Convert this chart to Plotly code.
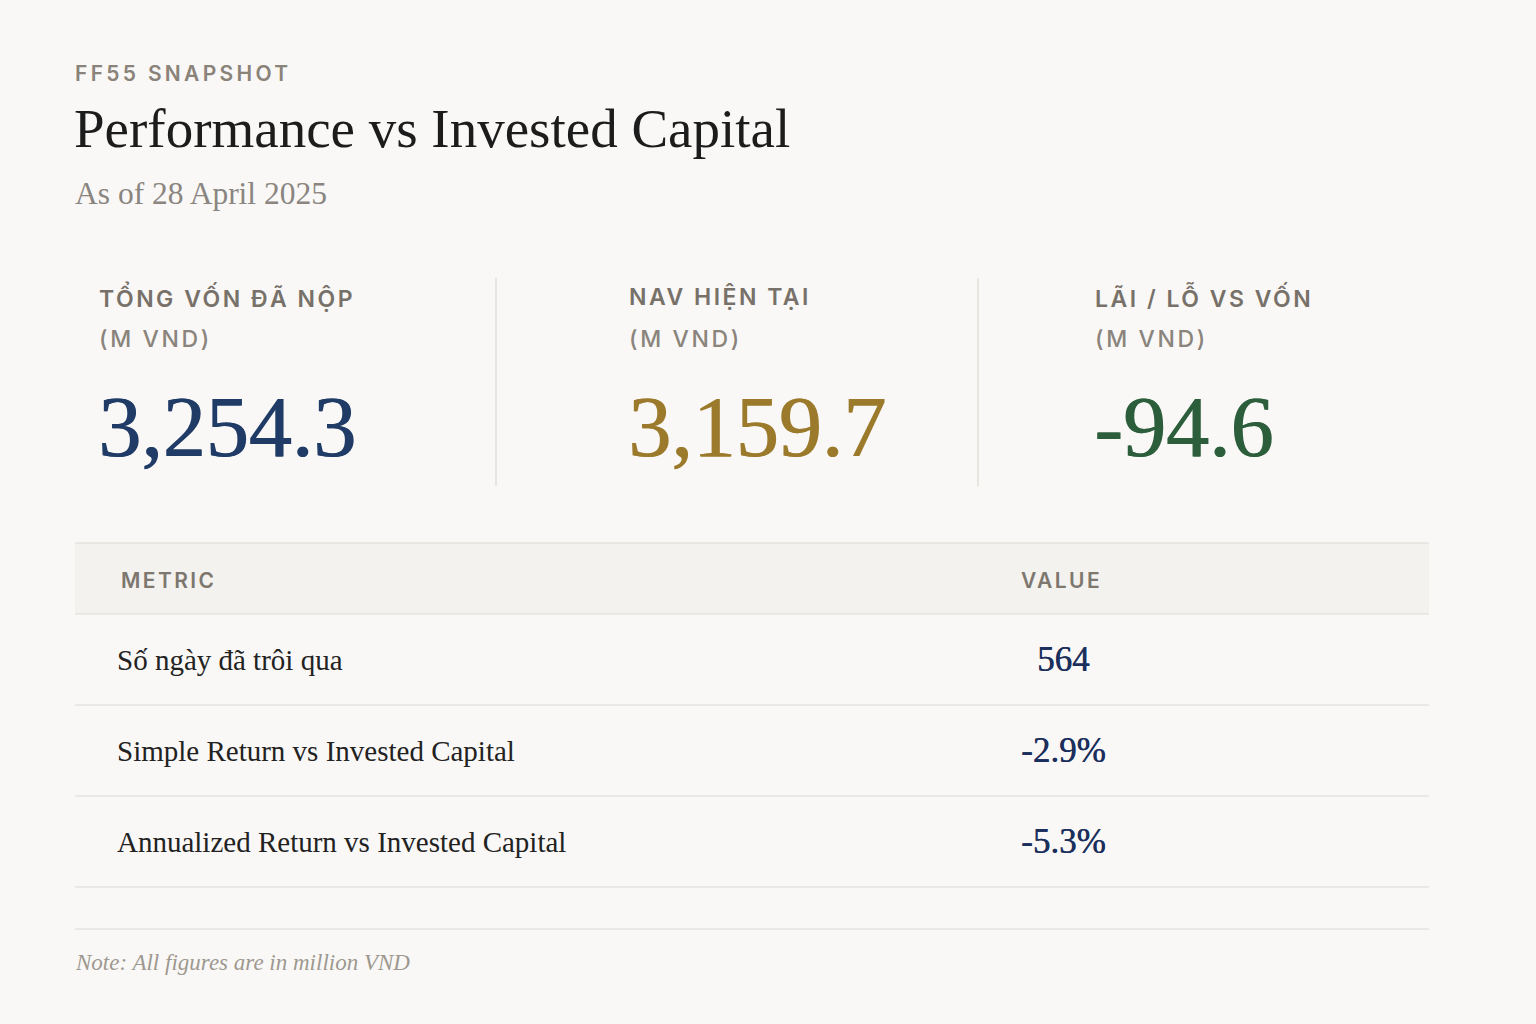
import plotly.graph_objects as go

# header text
kicker = "FF55 SNAPSHOT"
title = "Performance vs Invested Capital"
subtitle = "As of 28 April 2025"

# KPI cards
kpi_labels = ["TỔNG VỐN ĐÃ NỘP", "NAV HIỆN TẠI", "LÃI / LỖ VS VỐN"]
kpi_units = ["(M VND)", "(M VND)", "(M VND)"]
kpi_values = ["3,254.3", "3,159.7", "-94.6"]
kpi_colors = ["#1f3b66", "#9c7a2c", "#2d5e3c"]

# table
table_header = ["METRIC", "VALUE"]
metrics = ["Số ngày đã trôi qua", "Simple Return vs Invested Capital",
           "Annualized Return vs Invested Capital"]
metric_values = ["564", "-2.9%", "-5.3%"]

note = "Note: All figures are in million VND"

SERIF = "Liberation Serif, DejaVu Serif, serif"
SANS = "Inter, Roboto, Open Sans, sans-serif"
BG = "#f9f8f6"
RULE = "#dcd9d3"

fig = go.Figure()


def txt(x, y, s, size, color, family=SANS, anchor="left", weight="normal",
        spacing=None, shadow="none"):
    if spacing is not None:
        s = '<span style="letter-spacing:%spx">%s</span>' % (spacing, s)
    fig.add_annotation(x=x, y=y, xref="x", yref="y", text=s, showarrow=False,
                       xanchor=anchor, yanchor="middle",
                       font=dict(family=family, size=size, color=color,
                                 weight=weight, shadow=shadow))


def hline(y, x0=75, x1=1429):
    fig.add_shape(type="line", xref="x", yref="y", x0=x0, x1=x1, y0=y, y1=y,
                  line=dict(color=RULE, width=1.2))


# titles
txt(73, 73, kicker, 21, "#8a8379", weight=600, spacing=3.3)
txt(72, 128, title, 55, "#1c1c1c", SERIF)
txt(73, 193, subtitle, 31.5, "#8a8580", SERIF)

# KPI cards
card_x = [97, 627, 1093]
for i in range(len(kpi_labels)):
    txt(card_x[i], 297, kpi_labels[i], 23, "#77716a", weight=600, spacing=2.5)
    txt(card_x[i], 339, kpi_units[i], 23, "#8a847c", weight=500, spacing=2.6)
    # thin same-colour shadow thickens the serif numerals a bit
    txt(card_x[i] - 1, 427, kpi_values[i], 86, kpi_colors[i], SERIF,
        shadow="1px 0px 0px " + kpi_colors[i])

for xd in [496, 978]:
    fig.add_shape(type="line", xref="x", yref="y", x0=xd, x1=xd, y0=278, y1=486,
                  line=dict(color=RULE, width=1.2))

# table header
fig.add_shape(type="rect", xref="x", yref="y", x0=75, x1=1429, y0=543, y1=614,
              fillcolor="#f4f2ee", line=dict(width=0), layer="below")
hline(543)
hline(614)
txt(119, 580, table_header[0], 21, "#7d776f", weight=600, spacing=2.4)
txt(1061, 580, table_header[1], 21, "#7d776f", anchor="center", weight=600, spacing=2.4)

# table rows
row_h = 91
for i, (m, v) in enumerate(zip(metrics, metric_values)):
    yc = 614 + row_h * i + row_h / 2
    txt(115, yc, m, 29, "#222222", SERIF)
    txt(1063, yc, v, 35, "#1b2f5c", SERIF, anchor="center",
        shadow="0.6px 0px 0px #1b2f5c")
    hline(614 + row_h * (i + 1))

hline(929)
fig.add_annotation(x=73, y=962, xref="x", yref="y", text="<i>" + note + "</i>",
                   showarrow=False, xanchor="left", yanchor="middle",
                   font=dict(family=SERIF, size=23, color="#9e9890"))

fig.update_xaxes(range=[0, 1536], visible=False, fixedrange=True)
fig.update_yaxes(range=[1024, 0], visible=False, fixedrange=True)
fig.update_layout(width=1536, height=1024, margin=dict(l=0, r=0, t=0, b=0),
                  paper_bgcolor=BG, plot_bgcolor=BG, showlegend=False)

# drop the default page margin so the card fills the window
fig.write_html("out.html", config={"displayModeBar": False},
               post_script="document.body.style.margin='0px';"
                           "document.body.style.background='#f9f8f6';"
                           "document.body.style.overflow='hidden';")
